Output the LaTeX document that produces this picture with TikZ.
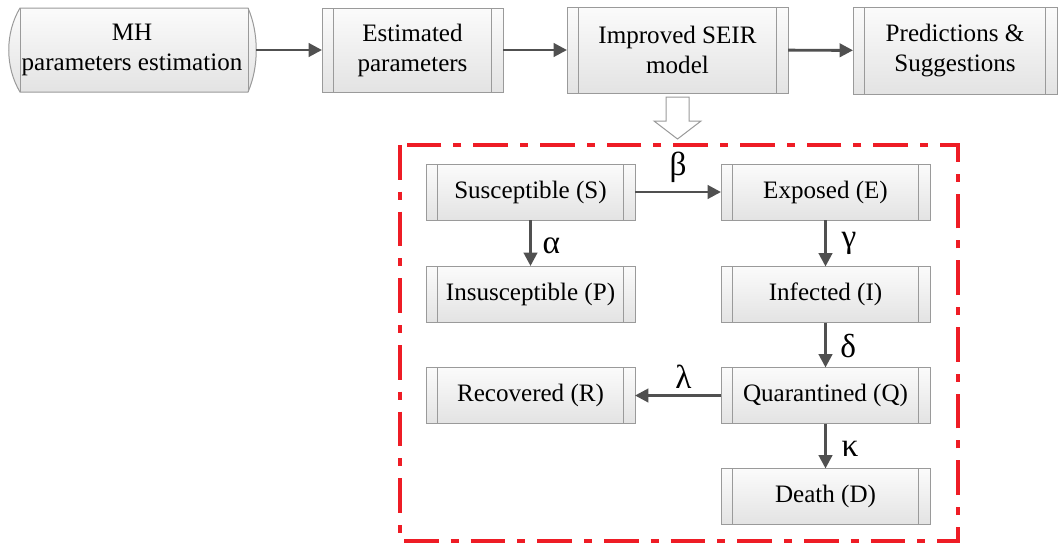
\documentclass[tikz,border=0pt]{standalone}
\usepackage{fontspec}
\setmainfont{Liberation Serif}
\usetikzlibrary{arrows.meta}
\definecolor{boxline}{HTML}{9A9A9A}
\definecolor{arrowgray}{HTML}{505050}
\definecolor{boxtop}{HTML}{FBFBFB}
\definecolor{boxbot}{HTML}{E3E3E3}
\definecolor{framered}{HTML}{EE1C25}
\begin{document}
\begin{tikzpicture}[x=0.75pt,y=-0.75pt,
  procbox/.style={draw=boxline, line width=0.75pt, top color=boxtop, bottom color=boxbot,
    inner sep=0pt, outer sep=0pt, align=center, font=\fontsize{18.8}{22.5}\selectfont,
    path picture={\draw[boxline, line width=0.75pt]
      ([xshift=8.5pt]path picture bounding box.north west) -- ([xshift=8.5pt]path picture bounding box.south west)
      ([xshift=-8.5pt]path picture bounding box.north east) -- ([xshift=-8.5pt]path picture bounding box.south east);}},
  smallbox/.style={procbox, minimum width=156.75pt, minimum height=42pt},
  flow/.style={draw=arrowgray, line width=2.2pt, -{Triangle[length=10pt,width=10pt]}},
  greek/.style={font=\fontsize{25}{27}\selectfont, inner sep=0pt},
  redframe/.style={draw=framered, line width=2.3pt, dash pattern=on 26pt off 9pt on 6pt off 9pt}
]
\useasboundingbox (0,0) rectangle (1059,547);

% MH stored-data style box
\shadedraw[top color=boxtop, bottom color=boxbot, draw=boxline, line width=0.75pt]
  (20,8) -- (248,8) .. controls (259,33) and (259,67) .. (248,92) -- (20,92)
  .. controls (5,67) and (5,33) .. (20,8) -- cycle;
\draw[boxline, line width=0.75pt] (20,8) -- (20,92) (248,8) -- (248,92);
\node[inner sep=0pt, outer sep=0pt, minimum width=186pt, minimum height=63pt, align=center,
  font=\fontsize{18.8}{22.5}\selectfont] (mh) at (132,50) {MH\\parameters estimation};

\node[procbox, minimum width=135.75pt, minimum height=63pt] (est) at (412.5,50) {Estimated\\parameters};
\node[procbox, minimum width=165.75pt, minimum height=64.5pt] (seir) at (677.5,50) {Improved SEIR\\model};
\node[procbox, minimum width=153pt, minimum height=65.25pt] (pred) at (955,50.5) {Predictions \&\\Suggestions};

\draw[flow] (mh) -- (est);
\draw[flow] (est) -- (seir);
\draw[flow] (seir) -- (pred);

% hollow down arrow
\draw[boxline, fill=white, line width=0.75pt]
  (666,97) -- (689,97) -- (689,121) -- (701,121) -- (677.5,139) -- (654,121) -- (666,121) -- cycle;

% red frame
\draw[redframe] (400,145) rectangle (958,541);

\node[smallbox] (S) at (530.5,192) {Susceptible (S)};
\node[smallbox] (P) at (530.5,294) {Insusceptible (P)};
\node[smallbox] (E) at (825.5,192) {Exposed (E)};
\node[smallbox] (I) at (825.5,294.5) {Infected (I)};
\node[smallbox] (Q) at (825.5,395.5) {Quarantined (Q)};
\node[smallbox] (R) at (530.5,395.5) {Recovered (R)};
\node[smallbox] (D) at (825.5,496.5) {Death (D)};

\draw[flow] (S) -- node[greek, above=6pt] {β} (E);
\draw[flow] (S) -- node[greek, right=8pt, yshift=-2pt] {α} (P);
\draw[flow] (E) -- node[greek, right=11pt] {γ} (I);
\draw[flow] (I) -- node[greek, right=10pt, yshift=-1pt] {δ} (Q);
\draw[flow] (Q) -- node[greek, above=4pt, xshift=4pt] {λ} (R);
\draw[flow] (Q) -- node[greek, right=11pt, yshift=-2pt] {κ} (D);
\end{tikzpicture}
\end{document}
